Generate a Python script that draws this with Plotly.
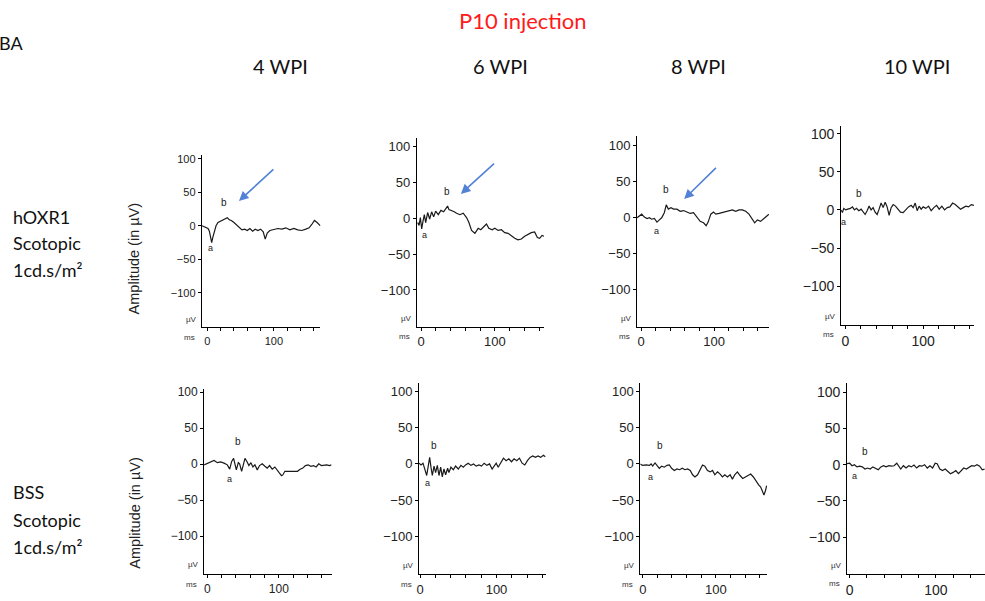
import plotly.graph_objects as go

W, H = 985, 601

# ---------------- data (time in ms, amplitude in µV) ----------------
T1 = [-8, -5, -2, 1, 3, 5, 6.5, 8, 10, 13, 16, 20, 24, 27, 30, 33, 36, 40, 44, 48, 52, 56, 60, 64, 68,
      72, 76, 80, 84, 87, 90, 94, 100, 106, 112, 118, 124, 130, 136, 142, 148, 153, 157, 161, 165, 170]
A1 = [0, -1, -2, -4, -8, -18, -25, -18, -10, 0, 5, 7, 9, 10, 12, 9, 8, 5, 1, -3, -6, -5, -7, -4, -8,
      -5, -7, -5, -9, -20, -11, -7, -6, -4, -5, -3, -6, -4, -6, -7, -5, -3, 2, 8, 5, 0]

T2 = [-4.5, -2.7, -0.9, 0.9, 2.7, 4.5, 6.3, 9, 11.7, 14.4, 17.1, 19.8, 23.4, 27, 30.6, 33.3, 36, 37.8,
      41.4, 45, 48.2, 52.7, 57.2, 61.7, 64.9, 68.5, 73, 77.5, 81, 85.6, 88.7, 91.9, 96.4, 100, 104.5,
      109, 113.5, 118, 122.5, 127, 131.5, 136, 140.5, 145, 149.5, 154, 157.7, 160.8, 164, 166.7]
A2 = [-6, -10, 1, -15, -4, 5, -6, 8, -1, 9, 2, 10, 5, 11, 9, 13, 17, 12, 11, 9, 7, 5, 7, 1, -6, -17,
      -21, -14, -16, -12, -8, -14, -16, -14, -17, -16, -20, -21, -25, -28, -30, -29, -25, -22, -20,
      -19, -27, -28, -24, -25]

T3 = [-5.5, -2.3, 0.9, 4.5, 8.2, 11.4, 14.5, 18.2, 21.8, 25, 28.2, 31.8, 34.5, 37.3, 40.9, 44.5, 49.1,
      53.6, 58.2, 62.7, 67.3, 71.8, 76.4, 80.9, 85.5, 89.1, 91.8, 95.5, 99.1, 102.3, 106.8, 111.4,
      115.9, 120.5, 125, 129.5, 134.1, 138.6, 143.2, 147.7, 152.3, 155.5, 159.1, 163.6, 168.2, 171.8, 175]
A3 = [0, 3, 5, 1, -1, 0, -2, -1, -6, -3, 0, 7, 18, 12, 14, 12, 12, 9, 10, 8, 6, 7, 0, -5, -7, -11, -6,
      5, 8, 5, 6, 7, 8, 9, 11, 9, 11, 11, 9, 5, -2, -7, -3, -5, -1, 2, 5]

T4 = [-5.6, -3.9, -2.1, 0.4, 3, 6.4, 9, 11.6, 14.2, 17.2, 20.2, 22.7, 25.3, 27.9, 30.5, 33, 35.6, 38.2,
      40.8, 43.3, 45.9, 48.5, 51.1, 53.6, 56.2, 58.8, 61.4, 64.4, 67.4, 70.8, 74.2, 77.7, 81.1, 84.5,
      87.1, 89.7, 92.3, 94.8, 97.4, 100, 103.4, 106.9, 110.3, 113.7, 117.2, 120.6, 124, 127.5, 130.9,
      134.3, 137.8, 141.2, 144.6, 148.1, 151.5, 154.9, 158.4, 161.8, 165.2]
A4 = [0, -3.5, 2, 0, 1, 2, 4, 0, 2, -1, 1, -3, -6, -1, 5, 0, 3, -3, -6, 1, 9, 3, 10, 4, -7, 3, 7, 5, 1,
      -3, -3.5, 0, 4, 6, 3, 9, -1, 5, 1, 4, 2, 5, -1, 3, 6, 1, 5, 0, 3, 4, 9, 7, 4, 1, 3, 5, 4, 7, 6]

T5 = [-4.7, 0, 4.7, 9.3, 14, 18.6, 23.3, 27.9, 31.2, 34, 36.7, 38.6, 40.5, 43.3, 45.1, 47.9, 49.8, 52.6,
      55.3, 58.1, 60.9, 63.7, 66.5, 69.8, 73, 76.7, 80.5, 83.7, 87, 90.7, 94.4, 97.7, 100.9, 103.7,
      105.6, 108.4, 111.6, 114.9, 118.6, 122.3, 126, 129.8, 133.5, 137.2, 140.9, 144.7, 148.4, 152.1,
      155.8, 159.5, 163.3, 167, 170.7, 173.5]
A5 = [-1, 1.4, 3, 5, 2, 3, 1.4, -1, -7, 3.7, 8, 0.5, -8, 2, 0.5, -10, -1, 8, 3.7, -2, 2, -4, -1, -8, -2,
      0.5, -3, -5.5, -2, -7, -4, -9, -12.5, -16, -15, -10, -10, -9, -10, -9, -10, -7, -5.5, -2, -1, -3,
      -2, -4, 0.5, -2, -1, -1, -2, -1]

T6 = [-1.3, 1.3, 3.9, 6.5, 8.7, 10.9, 12.6, 14.3, 16.1, 18.3, 20.4, 22.6, 24.8, 27, 29.1, 31.3, 33.5,
      36.1, 37.8, 40.4, 43.5, 46.5, 50, 53.5, 56.5, 59.6, 63, 66.5, 70, 73.5, 77, 80.4, 83.9, 87.4,
      90.9, 94.3, 97, 99.6, 102.2, 105.7, 109.1, 112.6, 116.1, 119.6, 123, 126.5, 130, 133.5, 137,
      140.4, 143.9, 147.4, 150.9, 154.3, 157.8, 161.3, 163.9]
A6 = [1, -1.4, 1, -8, -16, -2, 9, -4.5, -16, -3, -12, -2, -16, -4.5, -18, -7, -15, -6, -12, -4.5, -8,
      -3, -7, -2, -4.5, -1.4, 1, -2, 0, -3, -1.4, -3, 1, -2, 0, -7, -3, 1, -4.5, 1, 8, 4.5, 7, 3, 7, 4.5,
      8, 1, -1.4, 4.5, 9, 11, 9, 11, 9, 12, 10]

T7 = [-4.5, 0, 4.5, 9.1, 11.4, 13.6, 16.8, 19.5, 22.7, 25.9, 29.5, 33.2, 36.4, 39.5, 43.2, 46.8, 50.5,
      54.1, 57.7, 61.4, 65, 68.2, 71.4, 75, 78.6, 81.8, 85, 88.6, 92.3, 95.5, 98.6, 102.3, 105.9,
      109.1, 112.3, 115.9, 119.5, 122.7, 125.9, 129.5, 133.2, 136.8, 140.5, 144.1, 147.7, 151.4, 155,
      158.6, 161.4, 164.1, 165.9, 168.2, 169.5]
A7 = [0, -2, -1.4, -2, 0, -3, 1.4, -1.4, -6, -3, -4.5, -2, -1.4, -6, -9, -7, -8, -6, -8, -7, -9, -15,
      -18, -15, -7, -1.4, -3, -9, -11, -9, -15, -11, -14, -18, -15, -18, -15, -21, -15, -11, -16, -20,
      -18, -16, -14, -18, -24, -29, -32, -38, -43, -36, -30]

T8 = [-3.1, 0, 2.7, 5.4, 8.5, 11.5, 14.6, 17.7, 20.8, 23.8, 26.9, 30, 33.1, 36.2, 39.2, 42.3, 45.4,
      48.5, 51.5, 54.6, 56.9, 59.2, 62.3, 65.4, 68.5, 71.5, 74.6, 77.7, 80.8, 83.8, 86.9, 90, 93.1,
      96.2, 99.2, 101.5, 104.6, 107.7, 110.8, 113.8, 116.9, 120, 123.1, 126.2, 129.2, 132.3, 135.4,
      138.5, 141.5, 144.6, 147.7, 150.8, 153.8, 156.5]
A8 = [1.4, 2, -1.4, 0, -3, -2, -3, -6, -4.6, -6, -3, -4.6, -7, -3, -1.4, -3, -1.4, -2, -1.4, 2, -2, -6,
      -1.4, -4.6, -1.4, -3, -0.5, -4.6, -1.4, -2, 0, -4.6, -1.4, -4.6, 2, 1.4, -6, -8, -6, -9, -12.4,
      -10.6, -8, -12.4, -9, -4.6, -6, -3, -1.4, -2, 0, -2, -7, -6]

TIMES = [T1, T2, T3, T4, T5, T6, T7, T8]
AMPS = [A1, A2, A3, A4, A5, A6, A7, A8]

# a-wave / b-wave label positions (ms, µV)
A_LABEL_T = [5, 4.5, 21.8, -3, 31, 10, 10.5, 5.4]
A_LABEL_V = [-33, -23.5, -18.4, -16.5, -20, -27, -18, -16]
B_LABEL_T = [25, 34.7, 34.5, 17, 43, 18.7, 23, 18]
B_LABEL_V = [35, 38, 39, 21.7, 31, 25, 25, 18.4]

# arrows (tail -> head) for the hOXR1 4/6/8 WPI panels
ARROW_TAIL_T = [101.5, 101, 104.5]
ARROW_TAIL_V = [86.6, 78, 71.4]
ARROW_HEAD_T = [47.5, 54, 59]
ARROW_HEAD_V = [37, 34, 26]

COLUMNS = ["4 WPI", "6 WPI", "8 WPI", "10 WPI"]
ROW_LABELS = [["hOXR1", "Scotopic", "1cd.s/m²"], ["BSS", "Scotopic", "1cd.s/m²"]]
Y_TICKS = [-100, -50, 0, 50, 100]
X_TICKS = [0, 20, 40, 60, 80, 100, 120, 140, 160]
X_TICKTEXT = ["0", "", "", "", "", "100", "", "", ""]

# ---------------- layout geometry (pixels) ----------------
# zero-ms px, px per ms, x range, zero-µV px, px per µV, y range, tick font size
GEOM = [
    dict(zx=205.0, sx=0.667, xr=[-8.5, 170], zy=223.3, sy=0.673, yr=[-152, 106], fs=11),
    dict(zx=419.3, sx=0.740, xr=[-5.8, 167], zy=215.7, sy=0.722, yr=[-151, 112], fs=13),
    dict(zx=640.0, sx=0.733, xr=[-5.5, 175], zy=215.2, sy=0.725, yr=[-151, 113], fs=13),
    dict(zx=845.0, sx=0.780, xr=[-5.5, 165.5], zy=207.3, sy=0.767, yr=[-151, 110], fs=14),
    dict(zx=205.0, sx=0.717, xr=[-4.6, 174], zy=463.2, sy=0.725, yr=[-153, 104], fs=12),
    dict(zx=418.3, sx=0.767, xr=[-1.3, 164.5], zy=463.0, sy=0.730, yr=[-152, 111], fs=13),
    dict(zx=641.7, sx=0.733, xr=[-3.2, 170], zy=463.0, sy=0.730, yr=[-152, 112], fs=13),
    dict(zx=849.3, sx=0.867, xr=[-3.0, 157], zy=463.8, sy=0.728, yr=[-151, 113], fs=14),
]

AX_FONT = "Liberation Sans, Arial, sans-serif"
LBL_FONT = "Lato, Open Sans, sans-serif"

fig = go.Figure()
layout = {}
annotations = []

for i in range(8):
    n = i + 1
    sfx = "" if n == 1 else str(n)
    xa, ya = "x" + sfx, "y" + sfx
    g = GEOM[i]
    x0 = (g["zx"] + g["xr"][0] * g["sx"]) / W
    x1 = min(1.0, (g["zx"] + g["xr"][1] * g["sx"]) / W)
    ytop = g["zy"] - g["yr"][1] * g["sy"]
    ybot = g["zy"] - g["yr"][0] * g["sy"]
    fig.add_trace(go.Scatter(x=TIMES[i], y=AMPS[i], mode="lines",
                             line=dict(color="#1a1a1a", width=1.2),
                             xaxis=xa, yaxis=ya, showlegend=False, hoverinfo="skip"))
    layout["xaxis" + sfx] = dict(domain=[x0, x1], range=g["xr"], anchor=ya,
                                 tickmode="array", tickvals=X_TICKS, ticktext=X_TICKTEXT,
                                 ticks="outside", ticklen=3, tickcolor="black",
                                 showline=True, linecolor="black", linewidth=1,
                                 showgrid=False, zeroline=False,
                                 tickfont=dict(family=AX_FONT, size=g["fs"], color="#222"))
    layout["yaxis" + sfx] = dict(domain=[1 - ybot / H, 1 - ytop / H], range=g["yr"], anchor=xa,
                                 tickmode="array", tickvals=Y_TICKS,
                                 ticks="outside", ticklen=3, tickcolor="black",
                                 showline=True, linecolor="black", linewidth=1,
                                 showgrid=False, zeroline=False,
                                 tickfont=dict(family=AX_FONT, size=g["fs"], color="#222"))
    # small unit labels
    annotations.append(dict(text="ms", xref=xa + " domain", yref=ya + " domain", x=0, y=0,
                            xanchor="right", yanchor="middle", xshift=-5, yshift=-10,
                            showarrow=False, font=dict(family=AX_FONT, size=8, color="#333")))
    annotations.append(dict(text="µV", xref=xa + " domain", yref=ya, x=0, y=-140,
                            xanchor="right", yanchor="middle", xshift=-3,
                            showarrow=False, font=dict(family=AX_FONT, size=8, color="#333")))
    # a / b wave labels
    annotations.append(dict(text="a", xref=xa, yref=ya, x=A_LABEL_T[i], y=A_LABEL_V[i],
                            showarrow=False, font=dict(family=AX_FONT, size=9, color="#222")))
    annotations.append(dict(text="b", xref=xa, yref=ya, x=B_LABEL_T[i], y=B_LABEL_V[i],
                            showarrow=False, font=dict(family=AX_FONT, size=10, color="#222")))

for k in range(3):
    sfx = "" if k == 0 else str(k + 1)
    annotations.append(dict(text="", xref="x" + sfx, yref="y" + sfx,
                            axref="x" + sfx, ayref="y" + sfx,
                            x=ARROW_HEAD_T[k], y=ARROW_HEAD_V[k],
                            ax=ARROW_TAIL_T[k], ay=ARROW_TAIL_V[k],
                            showarrow=True, arrowhead=2, arrowsize=1.2, arrowwidth=1.6,
                            arrowcolor="#5282d6"))

# y-axis titles (first column only)
for ycen in [256, 512]:
    annotations.append(dict(text="Amplitude (in µV)", xref="paper", yref="paper",
                            x=131.5 / W, y=1 - ycen / H, textangle=-90, showarrow=False,
                            xanchor="center", yanchor="middle",
                            font=dict(family=AX_FONT, size=14.5, color="#222")))

# column headers
for txt, xc in zip(COLUMNS, [278, 499, 698, 917]):
    annotations.append(dict(text=txt, xref="paper", yref="paper", x=xc / W, y=1 - 62 / H,
                            showarrow=False, xanchor="center", yanchor="middle",
                            font=dict(family=LBL_FONT, size=20, color="#111")))

# row labels
for lines, ys in zip(ROW_LABELS, [[214, 241, 268], [491, 519, 547]]):
    for txt, yc in zip(lines, ys):
        annotations.append(dict(text=txt, xref="paper", yref="paper", x=8 / W, y=1 - yc / H,
                                showarrow=False, xanchor="left", yanchor="middle",
                                font=dict(family=LBL_FONT, size=18, color="#111")))

# title and panel letter
annotations.append(dict(text="P10 injection", xref="paper", yref="paper", x=522 / W, y=1 - 17 / H,
                        showarrow=False, xanchor="center", yanchor="middle",
                        font=dict(family=LBL_FONT, size=22, color="#ff1a1a")))
annotations.append(dict(text="BA", xref="paper", yref="paper", x=-6 / W, y=1 - 39 / H,
                        showarrow=False, xanchor="left", yanchor="middle",
                        font=dict(family=LBL_FONT, size=18, color="#111")))

fig.update_layout(**layout)
fig.update_layout(width=W, height=H, margin=dict(l=0, r=0, t=0, b=0),
                  paper_bgcolor="white", plot_bgcolor="white",
                  annotations=annotations, showlegend=False)

fig.write_html("out.html", config={"displayModeBar": False},
               post_script="document.body.style.margin='0px';document.body.style.overflow='hidden';")
